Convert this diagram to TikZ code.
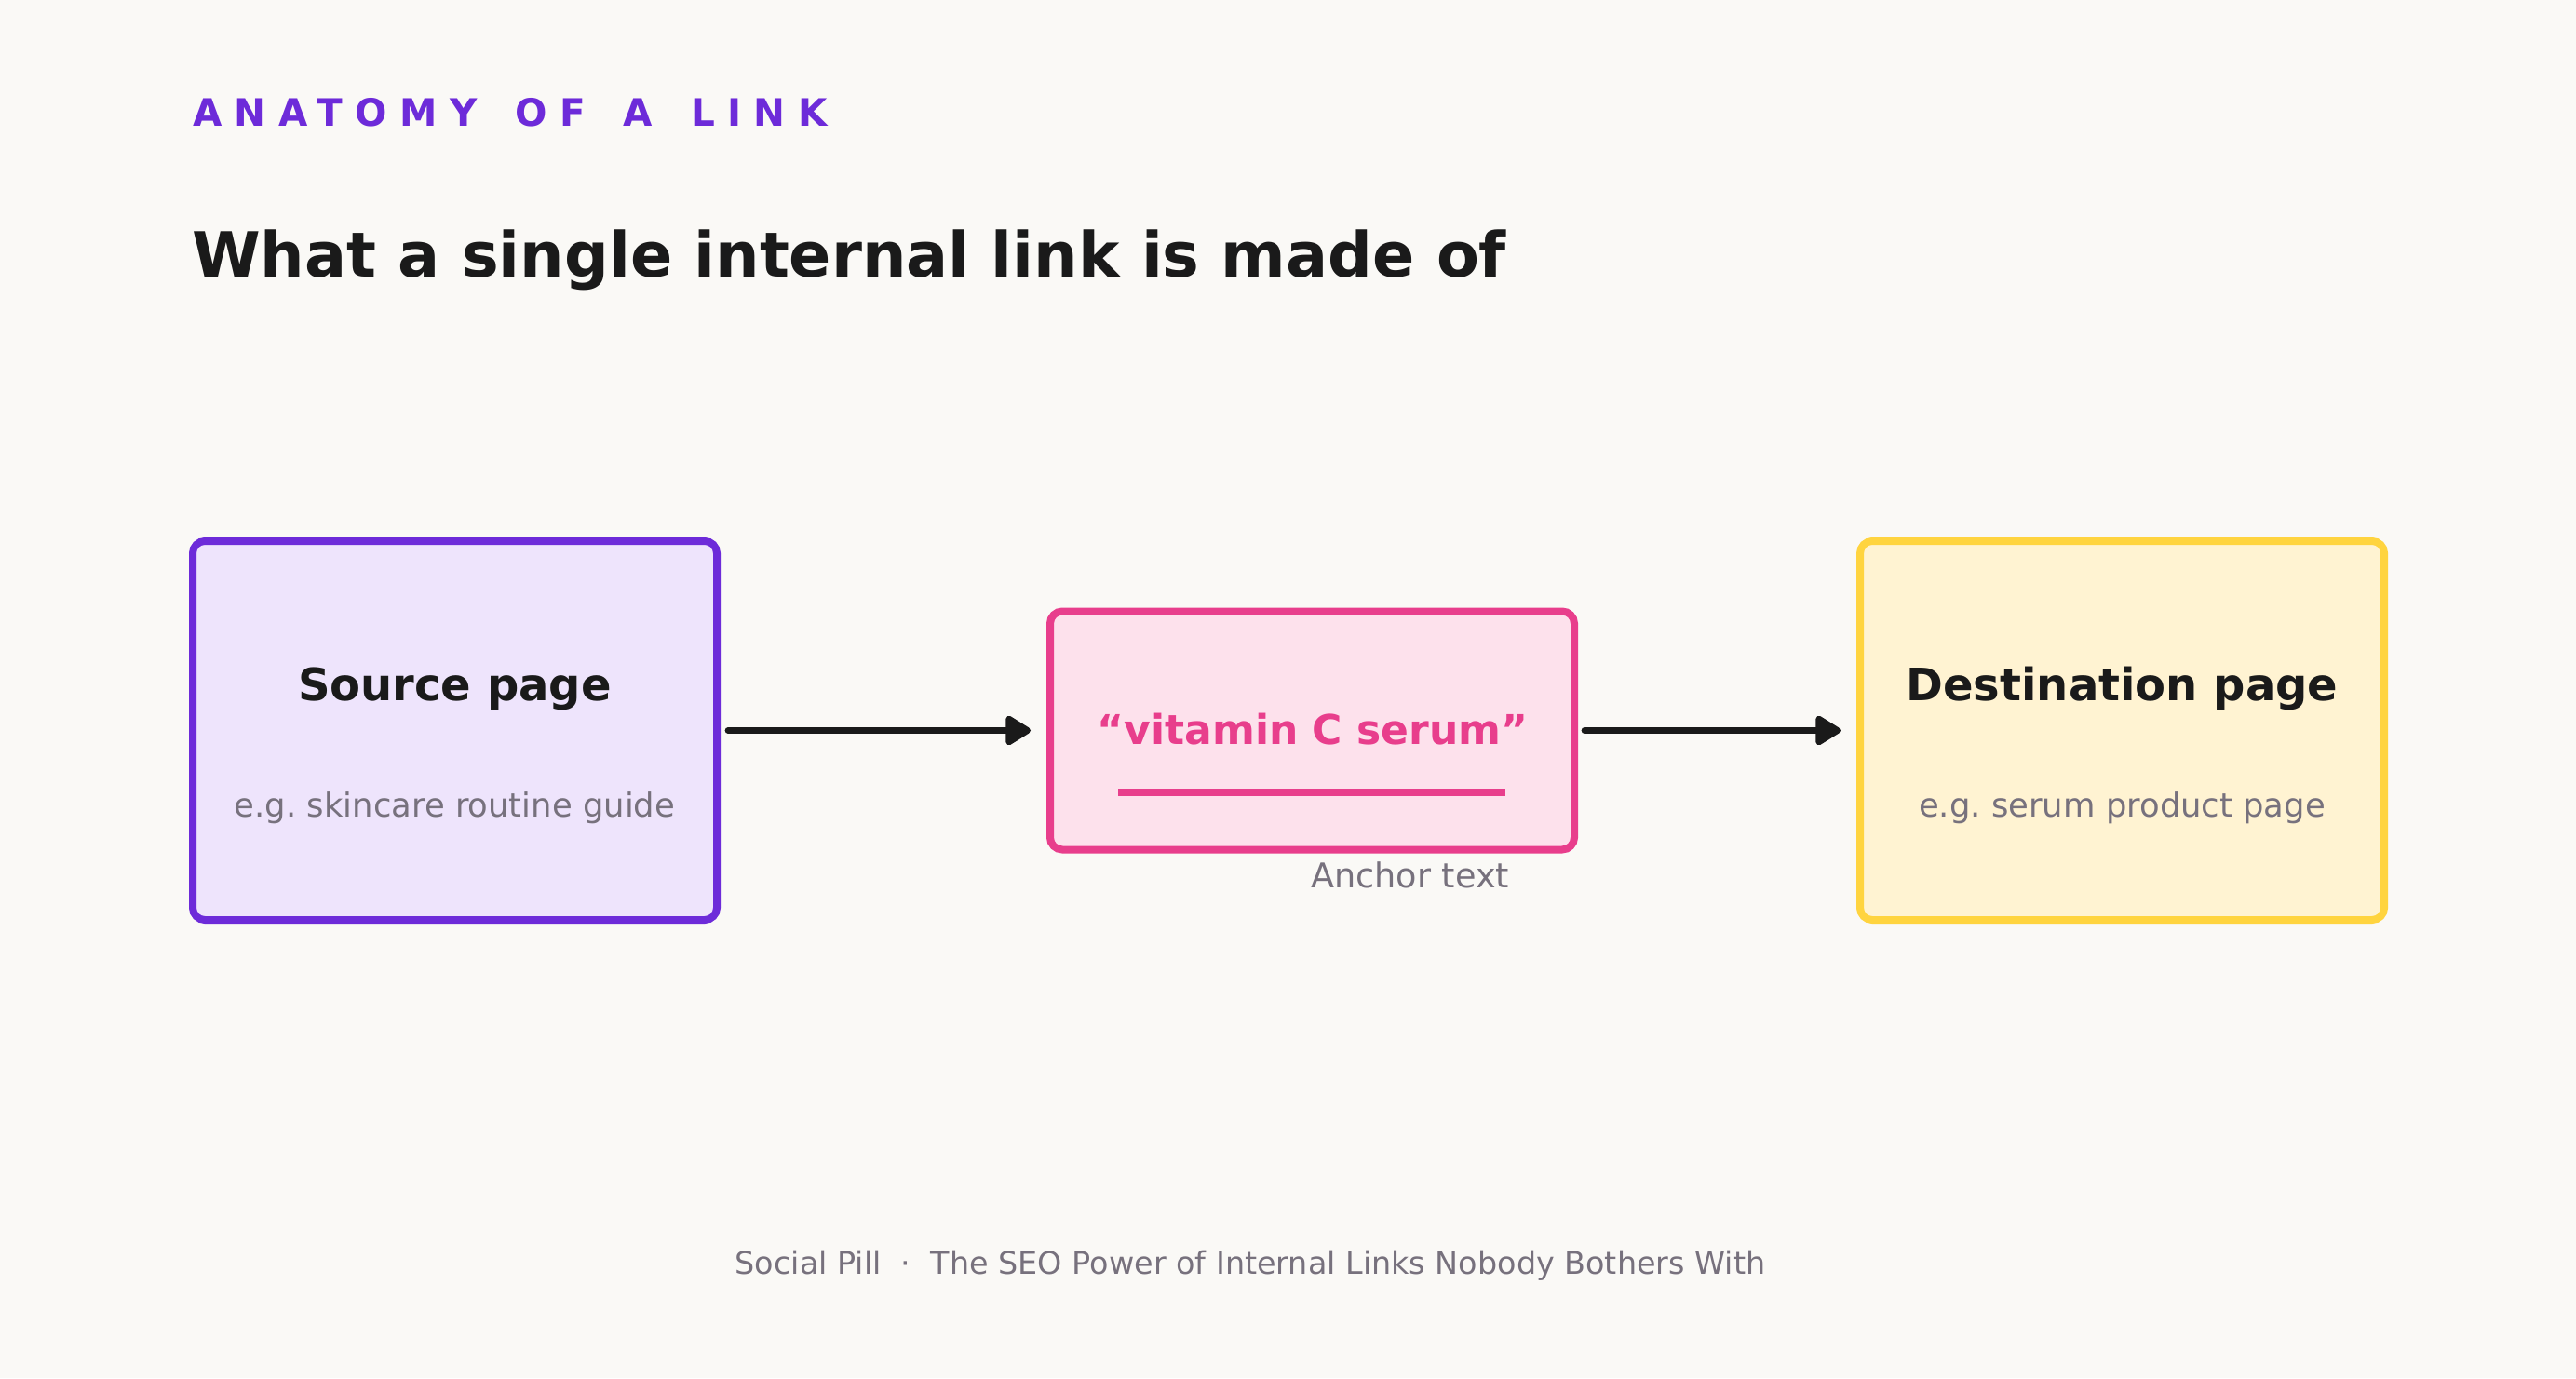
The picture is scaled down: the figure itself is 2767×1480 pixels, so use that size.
\documentclass[tikz,border=0pt]{standalone}
\usepackage{fontspec}
\setmainfont{DejaVu Sans}
\usetikzlibrary{arrows.meta}
\definecolor{bg}{HTML}{FAF9F6}
\definecolor{kick}{HTML}{6D2BD9}
\definecolor{lav}{HTML}{EEE4FC}
\definecolor{pinkline}{HTML}{E83E8C}
\definecolor{pinkfill}{HTML}{FDE1EC}
\definecolor{yel}{HTML}{FFD43F}
\definecolor{yelfill}{HTML}{FFF3D2}
\definecolor{ink}{HTML}{1A1A1A}
\definecolor{muted}{HTML}{77717D}
\frenchspacing
\tikzset{
  card/.style={draw, line width=8pt, rounded corners=13pt, inner sep=0pt, outer sep=0pt, minimum width=563pt},
  headtxt/.style={anchor=base, inner sep=0pt, text=ink, font=\fontsize{48}{56}\selectfont\bfseries},
  subtxt/.style={anchor=base, inner sep=0pt, text=muted, font=\fontsize{35.4}{42}\selectfont},
  arr/.style={draw=ink, line width=6.8pt, line cap=round, -{Triangle[length=30pt,width=35pt,round]}}
}
\newcommand{\kgap}{\hspace{13.5pt}}
\begin{document}
\begin{tikzpicture}[x=1pt,y=-1pt]
\fill[bg] (0,0) rectangle (2767,1480);
\useasboundingbox (0,0) rectangle (2767,1480);

\node[anchor=base west, inner sep=0pt, text=kick] (kicker) at (207,135)
  {\fontsize{40.5}{48}\selectfont\bfseries\addfontfeature{LetterSpace=33}ANATOMY \kgap OF \kgap A \kgap LINK};
\node[anchor=base west, inner sep=0pt, text=ink] (title) at (206,297)
  {\fontsize{66.8}{80}\selectfont\bfseries What a single internal link is made of};

\node[card, draw=kick, fill=lav, minimum height=407pt] (src) at (488.5,784.5) {};
\node[headtxt] (srcT) at (488.5,752) {Source page};
\node[subtxt] (srcS) at (488.5,877) {e.g. skincare routine guide};

\node[card, draw=pinkline, fill=pinkfill, minimum height=256pt] (lnk) at (1409.5,784.5) {};
\node[anchor=base, inner sep=0pt, text=pinkline, font=\fontsize{44}{52}\selectfont\bfseries] (lnkT) at (1410,799) {“vitamin C serum”};
\coordinate (ulA) at (1201,851);
\coordinate (ulB) at (1617,851);
\draw[pinkline, line width=7.5pt] (ulA) -- (ulB);
\node[subtxt, anchor=base west, font=\fontsize{36.6}{42}\selectfont] (anch) at (1408,953) {Anchor text};

\node[card, draw=yel, fill=yelfill, minimum height=407pt] (dst) at (2279.5,784.5) {};
\node[headtxt] (dstT) at (2279.5,752) {Destination page};
\node[subtxt] (dstS) at (2279.5,877) {e.g. serum product page};

\draw[arr, shorten <=12pt, shorten >=21pt] (src.east) -- (lnk.west);
\draw[arr, shorten <=11pt, shorten >=21pt] (lnk.east) -- (dst.west);

\node[anchor=base, inner sep=0pt, text=muted, font=\fontsize{33.4}{40}\selectfont] (foot) at (1343,1368)
  {Social Pill\ \ ·\ \ The SEO Power of Internal Links Nobody Bothers With};
\end{tikzpicture}
\end{document}
